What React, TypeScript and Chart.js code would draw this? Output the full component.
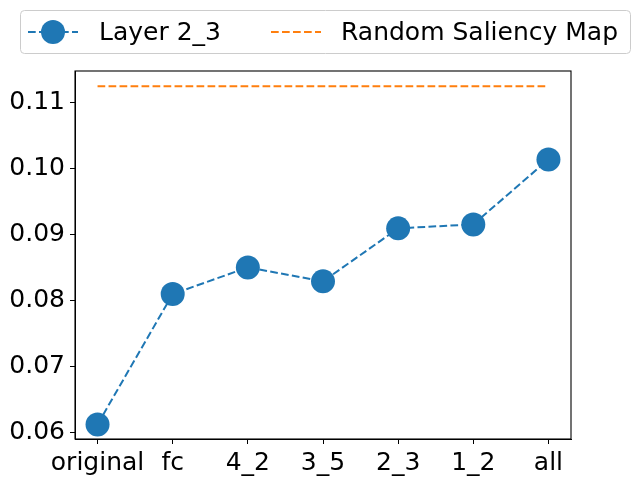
import React, { useEffect, useRef } from "react";
import { Chart, registerables } from "chart.js";
Chart.register(...registerables);

const categories = ["original", "fc", "4_2", "3_5", "2_3", "1_2", "all"];
const layerValues = [0.06115, 0.08093, 0.08497, 0.08285, 0.09089, 0.09149, 0.10135];
const randomSaliency = 0.11243;
const yTickValues = [0.06, 0.07, 0.08, 0.09, 0.1, 0.11];
const seriesLabels = ["Layer 2_3", "Random Saliency Map"];

const BLUE = "#1f77b4";
const ORANGE = "#ff7f0e";
const FONT = "DejaVu Sans";

const framePlugin = {
  id: "frameLegend",
  afterDraw(chart: any) {
    const ctx = chart.ctx;
    const a = chart.chartArea;
    ctx.save();
    ctx.strokeStyle = "#000";
    ctx.lineWidth = 1.1;
    ctx.setLineDash([]);
    ctx.strokeRect(a.left, a.top, a.right - a.left, a.bottom - a.top);

    // legend box
    const bx = 20.5, by = 10.5, bw = 610, bh = 43, r = 4;
    ctx.beginPath();
    ctx.moveTo(bx + r, by);
    ctx.lineTo(bx + bw - r, by);
    ctx.quadraticCurveTo(bx + bw, by, bx + bw, by + r);
    ctx.lineTo(bx + bw, by + bh - r);
    ctx.quadraticCurveTo(bx + bw, by + bh, bx + bw - r, by + bh);
    ctx.lineTo(bx + r, by + bh);
    ctx.quadraticCurveTo(bx, by + bh, bx, by + bh - r);
    ctx.lineTo(bx, by + r);
    ctx.quadraticCurveTo(bx, by, bx + r, by);
    ctx.closePath();
    ctx.fillStyle = "rgba(255,255,255,0.8)";
    ctx.fill();
    ctx.strokeStyle = "#cccccc";
    ctx.lineWidth = 1;
    ctx.stroke();

    const cy = 32;
    // item 1
    ctx.strokeStyle = BLUE;
    ctx.lineWidth = 2;
    ctx.setLineDash([7.7, 3.3]);
    ctx.beginPath();
    ctx.moveTo(28, cy);
    ctx.lineTo(78, cy);
    ctx.stroke();
    ctx.setLineDash([]);
    ctx.fillStyle = BLUE;
    ctx.beginPath();
    ctx.arc(53, cy, 12, 0, Math.PI * 2);
    ctx.fill();
    // item 2
    ctx.strokeStyle = ORANGE;
    ctx.setLineDash([7.7, 3.3]);
    ctx.beginPath();
    ctx.moveTo(271, cy);
    ctx.lineTo(321, cy);
    ctx.stroke();
    ctx.setLineDash([]);

    ctx.fillStyle = "#000";
    ctx.font = `25px "${FONT}"`;
    ctx.textBaseline = "middle";
    ctx.textAlign = "left";
    ctx.fillText(seriesLabels[0], 99, cy + 1);
    ctx.fillText(seriesLabels[1], 341, cy + 1);
    ctx.restore();
  },
};

export default function App() {
  const ref = useRef<HTMLCanvasElement>(null);
  useEffect(() => {
    if (!ref.current) return;
    const chart = new Chart(ref.current, {
      type: "line",
      data: {
        datasets: [
          {
            label: seriesLabels[0],
            data: layerValues.map((v, i) => ({ x: i, y: v })),
            borderColor: BLUE,
            backgroundColor: BLUE,
            borderWidth: 2,
            borderDash: [7.7, 3.3],
            pointRadius: 12,
            pointBorderWidth: 0,
            pointBackgroundColor: BLUE,
            tension: 0,
          },
          {
            label: seriesLabels[1],
            data: [
              { x: 0, y: randomSaliency },
              { x: categories.length - 1, y: randomSaliency },
            ],
            borderColor: ORANGE,
            backgroundColor: ORANGE,
            borderWidth: 2,
            borderDash: [7.7, 3.3],
            pointRadius: 0,
            tension: 0,
          },
        ],
      },
      options: {
        animation: false,
        responsive: false,
        devicePixelRatio: 1,
        layout: { padding: { top: 71, right: 67, left: 0, bottom: 0 } },
        plugins: { legend: { display: false }, tooltip: { enabled: false } },
        scales: {
          x: {
            type: "linear",
            min: -0.3,
            max: categories.length - 1 + 0.3,
            afterBuildTicks: (axis: any) => {
              axis.ticks = categories.map((_, i) => ({ value: i }));
            },
            afterFit: (axis: any) => {
              axis.height = 45;
            },
            ticks: {
              autoSkip: false,
              maxRotation: 0,
              padding: 4,
              color: "#000",
              font: { family: FONT, size: 25 },
              callback: (v: any) => categories[Math.round(Number(v))] ?? "",
            },
            grid: {
              display: true,
              drawOnChartArea: false,
              drawTicks: true,
              tickLength: 5,
              color: "#000",
              lineWidth: 1,
            },
            border: { display: true, color: "#000", width: 1 },
          },
          y: {
            type: "linear",
            min: 0.05894,
            max: 0.11476,
            afterBuildTicks: (axis: any) => {
              axis.ticks = yTickValues.map((v) => ({ value: v }));
            },
            afterFit: (axis: any) => {
              axis.width = 75;
            },
            ticks: {
              padding: 5,
              color: "#000",
              font: { family: FONT, size: 25 },
              callback: (v: any) => Number(v).toFixed(2),
            },
            grid: {
              display: true,
              drawOnChartArea: false,
              drawTicks: true,
              tickLength: 5,
              color: "#000",
              lineWidth: 1,
            },
            border: { display: true, color: "#000", width: 1 },
          },
        },
      },
      plugins: [framePlugin],
    });
    return () => chart.destroy();
  }, []);
  return (
    <div style={{ position: "absolute", left: 0, top: 0, width: 638, height: 484, background: "#fff" }}>
      <canvas ref={ref} width={638} height={484} />
    </div>
  );
}
